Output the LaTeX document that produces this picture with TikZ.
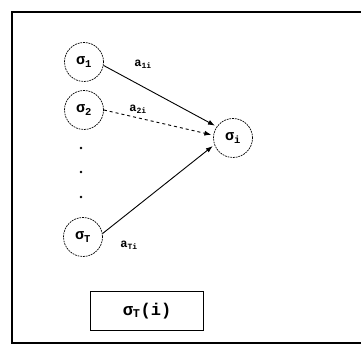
\documentclass[tikz,border=0pt]{standalone}
\usepackage{fontspec}
\setmainfont{Liberation Mono}
\usetikzlibrary{arrows.meta}

\tikzset{
  unit/.style={circle, draw, line width=0.7pt, dash pattern=on 1.8pt off 0.9pt, minimum size=39pt, inner sep=0pt, font=\fontsize{15}{17}\selectfont\bfseries},
  weight/.style={font=\fontsize{12}{14}\selectfont\bfseries},
  link/.style={-{Latex[length=7pt,width=5pt]}, line width=0.9pt, shorten >=2pt}
}

\begin{document}
\begin{tikzpicture}[x=1pt, y=-1pt]
  \useasboundingbox (0,0) rectangle (361,347);

  % Frame
  \draw[line width=1.6pt] (370,12) -- (12,12) -- (12,343) -- (370,343);

  % Input units
  \node[unit] (s1) at (84,62) {σ\textsubscript{1}};
  \node[unit] (s2) at (84,110) {σ\textsubscript{2}};
  \node[unit] (sT) at (83,237) {σ\textsubscript{T}};

  % Target unit
  \node[unit] (si) at (233,138) {σ\textsubscript{i}};

  % Dots
  \foreach \y in {148,172,197}
    \fill (81,\y) circle (1.3pt);

  % Connections
  \draw[link] (s1.-10) -- (si.145);
  \draw[link, dashed] (s2.0) -- (si.172);
  \draw[link] (sT.10) -- (si.200);

  % Weights
  \node[weight] (w1) at (143,64) {a\textsubscript{1i}};
  \node[weight] (w2) at (138,109) {a\textsubscript{2i}};
  \node[weight] (wT) at (129,245) {a\textsubscript{Ti}};

  % Output
  \node[draw, line width=1.1pt, minimum width=113pt, minimum height=39pt, font=\fontsize{17}{19}\selectfont\bfseries] (out) at (147,311) {σ\textsubscript{T}(i)};
\end{tikzpicture}
\end{document}
